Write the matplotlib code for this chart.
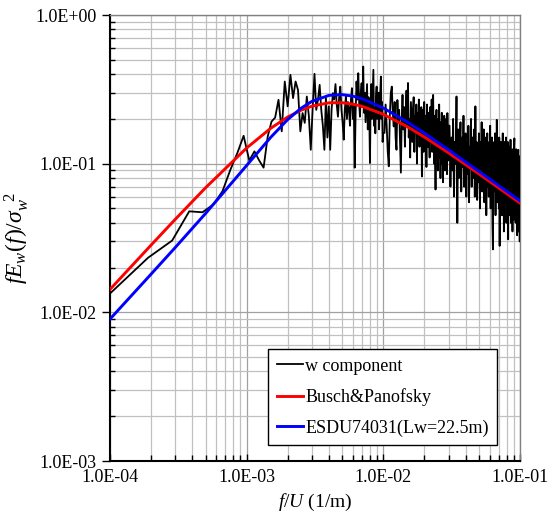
import numpy as np
import matplotlib
matplotlib.use('Agg')
import matplotlib.pyplot as plt
from matplotlib.ticker import LogLocator, FuncFormatter, NullFormatter

plt.rcParams['font.family'] = 'Liberation Serif'
plt.rcParams['mathtext.fontset'] = 'custom'
plt.rcParams['mathtext.rm'] = 'Liberation Serif'
plt.rcParams['mathtext.it'] = 'Liberation Serif:italic'

# measured spectrum, low band: bins k = 1..105 of a 9.5e-5 (1/m) grid
df = 9.5e-5
spec_low = [
    0.0128, 0.0233, 0.0304, 0.0478, 0.0471, 0.0531, 0.0652, 0.091, 0.118, 0.154,
    0.105, 0.121, 0.105, 0.094, 0.152, 0.192, 0.204, 0.269, 0.165, 0.357,
    0.243, 0.396, 0.276, 0.357, 0.313, 0.165, 0.219, 0.188, 0.283, 0.210,
    0.124, 0.237, 0.402, 0.230, 0.269, 0.339, 0.230, 0.180, 0.124, 0.283,
    0.150, 0.243, 0.124, 0.230, 0.298, 0.270, 0.343, 0.250, 0.207, 0.280,
    0.330, 0.230, 0.190, 0.145, 0.230, 0.283, 0.200, 0.260, 0.236, 0.180,
    0.270, 0.322, 0.200, 0.250, 0.094, 0.220, 0.357, 0.270, 0.406, 0.260,
    0.207, 0.300, 0.348, 0.240, 0.450, 0.220, 0.300, 0.190, 0.260, 0.343,
    0.170, 0.280, 0.230, 0.101, 0.260, 0.343, 0.200, 0.300, 0.428, 0.180,
    0.236, 0.160, 0.280, 0.330, 0.200, 0.250, 0.300, 0.170, 0.240, 0.300,
    0.385, 0.200, 0.260, 0.140, 0.161,
]

# measured spectrum, 1.0E-02 .. 3.0E-02 (every 2nd bin)
spec_mid = [
    0.161, 0.250, 0.180, 0.120, 0.096, 0.210, 0.300, 0.330, 0.220, 0.178,
    0.260, 0.150, 0.124, 0.268, 0.190, 0.230, 0.140, 0.087, 0.200, 0.290,
    0.170, 0.240, 0.130, 0.220, 0.310, 0.180, 0.349, 0.150, 0.200, 0.110,
    0.260, 0.190, 0.140, 0.230, 0.280, 0.120, 0.210, 0.170, 0.250, 0.100,
    0.220, 0.180, 0.270, 0.130, 0.200, 0.150, 0.240, 0.082, 0.190, 0.230,
    0.120, 0.260, 0.170, 0.140, 0.210, 0.095, 0.250, 0.180, 0.130, 0.220,
    0.160, 0.110, 0.240, 0.190, 0.140, 0.270, 0.120, 0.200, 0.290, 0.150,
    0.100, 0.210, 0.130, 0.067, 0.180, 0.230, 0.120, 0.160, 0.090, 0.200,
    0.140, 0.250, 0.110, 0.170, 0.080, 0.190, 0.130, 0.220, 0.100, 0.160,
    0.075, 0.180, 0.120, 0.210, 0.140, 0.090, 0.170, 0.110, 0.200, 0.130,
    0.085, 0.219, 0.150, 0.105, 0.180,
]

# measured spectrum, 3.0E-02 .. 1.0E-01 (every 5th bin)
spec_high = [
    0.180, 0.070, 0.150, 0.090, 0.200, 0.060, 0.140, 0.100, 0.283, 0.040,
    0.170, 0.080, 0.130, 0.190, 0.065, 0.150, 0.095, 0.210, 0.070, 0.120,
    0.160, 0.060, 0.140, 0.085, 0.180, 0.055, 0.130, 0.100, 0.200, 0.070,
    0.150, 0.080, 0.120, 0.170, 0.060, 0.243, 0.090, 0.140, 0.057, 0.130,
    0.075, 0.160, 0.100, 0.050, 0.140, 0.085, 0.190, 0.065, 0.120, 0.095,
    0.170, 0.055, 0.130, 0.080, 0.150, 0.045, 0.110, 0.160, 0.070, 0.125,
    0.060, 0.140, 0.090, 0.180, 0.050, 0.120, 0.075, 0.150, 0.040, 0.0265,
    0.110, 0.065, 0.140, 0.085, 0.160, 0.045, 0.120, 0.070, 0.197, 0.055,
    0.130, 0.080, 0.110, 0.050, 0.150, 0.028, 0.100, 0.065, 0.140, 0.075,
    0.120, 0.045, 0.100, 0.160, 0.060, 0.130, 0.035, 0.090, 0.140, 0.055,
    0.110, 0.070, 0.150, 0.040, 0.095, 0.125, 0.050, 0.140, 0.031, 0.100,
    0.065, 0.130, 0.045, 0.110, 0.075, 0.145, 0.040, 0.090, 0.120, 0.055,
    0.100, 0.035, 0.125, 0.060, 0.110, 0.042, 0.130, 0.148, 0.050, 0.090,
    0.115, 0.040, 0.085, 0.125, 0.048, 0.100, 0.033, 0.110, 0.060, 0.095,
    0.124, 0.035, 0.090, 0.050, 0.112, 0.030, 0.080,
]

# model spectra
model_x = [1e-4, 2e-4, 3e-4, 5e-4, 1e-3, 1.5e-3, 2e-3, 2.5e-3, 3e-3, 4e-3,
           5e-3, 6e-3, 7e-3, 1e-2, 1.5e-2, 2e-2, 3e-2, 5e-2, 7e-2, 1e-1]
busch = [0.01426, 0.02836, 0.0422, 0.06884, 0.1275, 0.1730, 0.2062, 0.2289, 0.2437, 0.2567,
         0.2571, 0.2513, 0.2429, 0.2149, 0.1771, 0.1509, 0.1182, 0.0854, 0.0686, 0.0543]
esdu = [0.00901, 0.01809, 0.02728, 0.04622, 0.09731, 0.1504, 0.1983, 0.2360, 0.2624, 0.2880,
        0.2914, 0.2843, 0.2732, 0.2367, 0.1905, 0.1603, 0.1240, 0.0888, 0.0712, 0.0562]

spec_x = np.concatenate([np.arange(1, len(spec_low) + 1) * df,
                         np.linspace(1.02e-2, 3.0e-2, len(spec_mid)),
                         np.linspace(3.05e-2, 1.0e-1, len(spec_high))])
spec_y = np.array(spec_low + spec_mid + spec_high)

fig = plt.figure(figsize=(5.49, 5.17), dpi=100)
ax = fig.add_axes([110 / 549, 56 / 517, 410 / 549, 446 / 517])

ax.plot(spec_x, spec_y, color='black', lw=1.3, label='w component', zorder=3)
ax.plot(model_x, busch, color='red', lw=2.1, label='Busch&Panofsky', zorder=4)
ax.plot(model_x, esdu, color='blue', lw=2.1, label='ESDU74031(Lw=22.5m)', zorder=5)

ax.set_xscale('log')
ax.set_yscale('log')
ax.set_xlim(1e-4, 1e-1)
ax.set_ylim(1e-3, 1)

ax.xaxis.set_major_locator(LogLocator(base=10))
ax.yaxis.set_major_locator(LogLocator(base=10))
ax.xaxis.set_minor_locator(LogLocator(base=10, subs=np.arange(2, 10)))
ax.yaxis.set_minor_locator(LogLocator(base=10, subs=np.arange(2, 10)))
sci = FuncFormatter(lambda v, p: f'{v:.1E}')
ax.xaxis.set_major_formatter(sci)
ax.yaxis.set_major_formatter(sci)
ax.xaxis.set_minor_formatter(NullFormatter())
ax.yaxis.set_minor_formatter(NullFormatter())

ax.grid(which='major', color='#a0a0a0', lw=0.9)
ax.grid(which='minor', color='#c0c0c0', lw=0.9)
ax.set_axisbelow(True)

for s in ['left', 'bottom']:
    ax.spines[s].set_color('black')
    ax.spines[s].set_linewidth(1.5)
for s in ['top', 'right']:
    ax.spines[s].set_color('#808080')
    ax.spines[s].set_linewidth(1.0)

ax.tick_params(axis='y', which='major', direction='out', length=5.5, width=1.0, labelsize=13, pad=4)
ax.tick_params(axis='y', which='minor', direction='in', length=3.5, width=1.0)
ax.tick_params(axis='x', which='major', direction='in', length=5, width=1.0, labelsize=13, pad=6)
ax.tick_params(axis='x', which='minor', direction='in', length=4, width=1.0)

ax.set_xlabel(r'$f/U$ (1/m)', fontsize=14, labelpad=4)
ax.set_ylabel(r'$fE_w(f)/\sigma_w^{\ \ 2}$', fontsize=17, labelpad=3)

leg = ax.legend(loc='lower right', bbox_to_anchor=(0.944, 0.036), borderaxespad=0,
                fancybox=False, edgecolor='black', framealpha=1, fontsize=13,
                handlelength=1.45, handletextpad=0.15, labelspacing=0.75, borderpad=0.45)
leg.get_frame().set_linewidth(1.0)

fig.savefig('out.png', dpi=100)
